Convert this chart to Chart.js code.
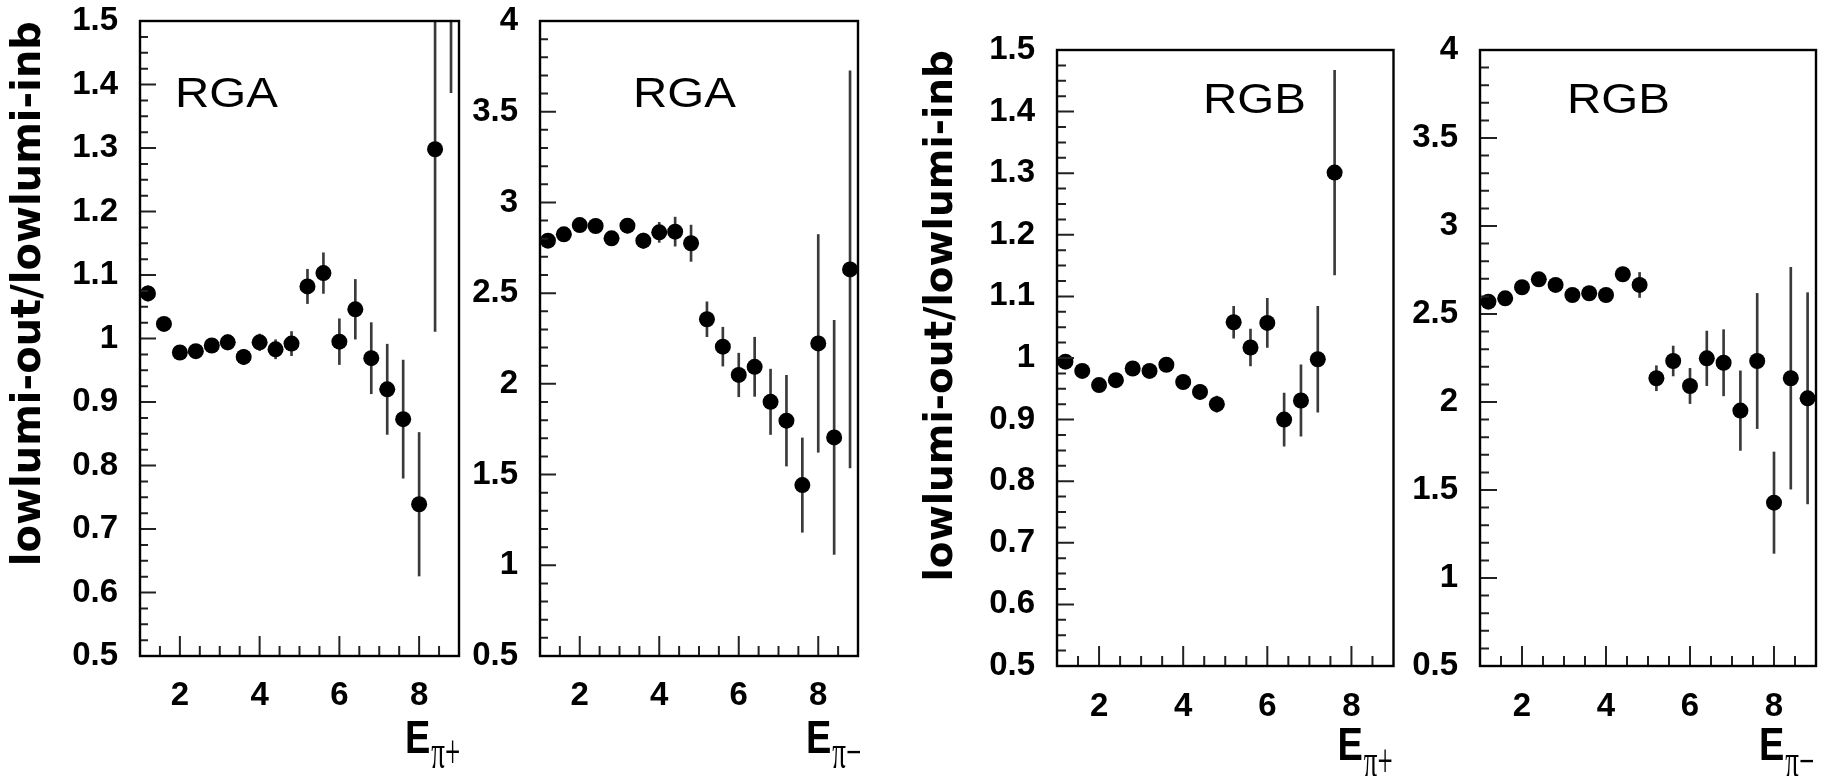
<!DOCTYPE html>
<html><head><meta charset="utf-8">
<script src="https://cdn.jsdelivr.net/npm/chart.js@4.4.1/dist/chart.umd.min.js"></script>
<style>
html,body{margin:0;padding:0;background:#fff;width:1824px;height:776px;overflow:hidden}
canvas{position:absolute;top:0}
</style></head><body>
<canvas id="c1" width="470" height="776" style="left:0px"></canvas>
<canvas id="c2" width="400" height="776" style="left:470px"></canvas>
<canvas id="c3" width="523" height="776" style="left:880px"></canvas>
<canvas id="c4" width="421" height="776" style="left:1403px"></canvas>
<script>
// ---- data ----
const binCenters = [1.2,1.6,2.0,2.4,2.8,3.2,3.6,4.0,4.4,4.8,5.2,5.6,6.0,6.4,6.8,7.2,7.6,8.0,8.4,8.8];

const rgaPipRatio = [1.071,1.023,0.978,0.980,0.989,0.994,0.971,0.994,0.983,0.992,1.082,1.103,0.995,1.046,0.969,0.920,0.873,0.739,1.298,1.62];
const rgaPipErr   = [0.012,0.010,0.010,0.010,0.011,0.012,0.012,0.013,0.015,0.019,0.027,0.032,0.036,0.047,0.056,0.071,0.093,0.113,0.287,0.233];

const rgaPimRatio = [2.789,2.824,2.875,2.870,2.802,2.872,2.789,2.835,2.839,2.775,2.356,2.205,2.049,2.094,1.901,1.797,1.442,2.223,1.705,2.631];
const rgaPimErr   = [0.030,0.030,0.032,0.034,0.036,0.040,0.042,0.055,0.080,0.100,0.096,0.107,0.120,0.163,0.180,0.250,0.260,0.600,0.645,1.094];

const rgbPipRatio = [0.994,0.979,0.956,0.964,0.983,0.979,0.989,0.961,0.945,0.925,1.058,1.017,1.057,0.900,0.931,0.998,1.301,null,null,null];
const rgbPipErr   = [0.008,0.008,0.008,0.009,0.009,0.010,0.010,0.011,0.012,0.013,0.026,0.030,0.040,0.043,0.058,0.086,0.166,null,null,null];

const rgbPimRatio = [2.570,2.589,2.652,2.697,2.665,2.608,2.618,2.608,2.726,2.665,2.135,2.233,2.091,2.248,2.223,1.951,2.233,1.428,2.135,2.021];
const rgbPimErr   = [0.025,0.025,0.027,0.030,0.030,0.032,0.035,0.038,0.040,0.071,0.071,0.085,0.100,0.155,0.188,0.226,0.384,0.288,0.630,0.600];

const xTickLabels = ['2','4','6','8'];
const yTickLabelsPip = ['0.5','0.6','0.7','0.8','0.9','1','1.1','1.2','1.3','1.4','1.5'];
const yTickLabelsPim = ['0.5','1','1.5','2','2.5','3','3.5','4'];
const panelLabels = ['RGA','RGA','RGB','RGB'];
const pionLabels = ['π+','π\u2212','π+','π\u2212'];
const yTitleText = 'lowlumi-out/lowlumi-inb';

// ---- layout / style per panel ----
const panelStyle = [
  {id:'c1', padTop:21, padRight:11, yW:140, xH:120, xPad:23, titleShow:true, titleSize:40, titlePad:10,
   tagAt:[1.88,1.365], yMinorStep:0.025, yMaj:16, yMin:8, eDx:54, eDy:97, subDy:112},
  {id:'c2', padTop:21, padRight:12, yW:70, xH:120, xPad:23, titleShow:false, titleSize:40, titlePad:0,
   tagAt:[3.34,3.526], yMinorStep:0.1, yMaj:16, yMin:8, eDx:52, eDy:97, subDy:112},
  {id:'c3', padTop:50, padRight:9.5, yW:177, xH:110, xPad:24, titleShow:true, titleSize:39, titlePad:42,
   tagAt:[4.47,1.398], yMinorStep:0.025, yMaj:17, yMin:9, eDx:56, eDy:94, subDy:111},
  {id:'c4', padTop:50, padRight:7, yW:77, xH:110, xPad:24, titleShow:false, titleSize:39, titlePad:0,
   tagAt:[3.07,3.642], yMinorStep:0.1, yMaj:17, yMin:9, eDx:57, eDy:94, subDy:111}
];
const panelData = [
  {vals:rgaPipRatio, errs:rgaPipErr, yLabels:yTickLabelsPip},
  {vals:rgaPimRatio, errs:rgaPimErr, yLabels:yTickLabelsPim},
  {vals:rgbPipRatio, errs:rgbPipErr, yLabels:yTickLabelsPip},
  {vals:rgbPimRatio, errs:rgbPimErr, yLabels:yTickLabelsPim}
];

const tickFont = {family:'"Liberation Sans", Arial, Helvetica, sans-serif', size:33, weight:'bold', lineHeight:1};

const rootDecor = {
  id:'rootDecor',
  afterDatasetsDraw(chart, args, o) {
    const {ctx, chartArea:a, scales:{x, y}} = chart;
    ctx.save();
    // tick marks (ROOT style, inward)
    ctx.strokeStyle = '#222'; ctx.lineWidth = 2;
    ctx.beginPath();
    const yMajors = o.yLabels.map(parseFloat);
    const n = Math.round((y.max - y.min) / o.yMinorStep);
    for (let k = 0; k <= n; k++) {
      const v = y.min + k * o.yMinorStep;
      const isMaj = yMajors.some(m => Math.abs(m - v) < 1e-6);
      const py = y.getPixelForValue(v);
      ctx.moveTo(a.left, py); ctx.lineTo(a.left + (isMaj ? o.yMaj : o.yMin), py);
    }
    const xMajors = xTickLabels.map(parseFloat);
    const nx = Math.round((x.max - x.min) / 0.5);
    for (let k = 1; k < nx; k++) {
      const v = x.min + k * 0.5;
      const isMaj = xMajors.some(m => Math.abs(m - v) < 1e-6);
      const px = x.getPixelForValue(v);
      ctx.moveTo(px, a.bottom); ctx.lineTo(px, a.bottom - (isMaj ? 20 : 10));
    }
    ctx.stroke();
    // frame
    ctx.strokeStyle = '#000'; ctx.lineWidth = 2.4;
    ctx.strokeRect(a.left, a.top, a.right - a.left, a.bottom - a.top);
    // panel tag (RGA / RGB)
    ctx.fillStyle = '#000';
    ctx.textBaseline = 'alphabetic'; ctx.textAlign = 'left';
    ctx.save();
    ctx.translate(x.getPixelForValue(o.tagAt[0]), y.getPixelForValue(o.tagAt[1]));
    ctx.scale(1.13, 1);
    ctx.font = '42px "Liberation Sans", Arial, sans-serif';
    ctx.fillText(o.tag, 0, 0);
    ctx.restore();
    // x-axis title E_pi
    ctx.save();
    ctx.translate(a.right - o.eDx, a.bottom + o.eDy);
    ctx.scale(1, 1.2);
    ctx.font = 'bold 38px "Liberation Sans", Arial, sans-serif';
    ctx.fillText('E', 0, 0);
    const ew = ctx.measureText('E').width;
    ctx.restore();
    ctx.save();
    ctx.translate(a.right - o.eDx + ew + 1, a.bottom + o.subDy);
    ctx.scale(0.9, 1.6);
    ctx.font = '30px "Liberation Serif", "Times New Roman", serif';
    ctx.fillText(o.pion, 0, 0);
    ctx.restore();
    ctx.restore();
  }
};

panelStyle.forEach((st, i) => {
  const d = panelData[i];
  const pts = [], bars = [];
  binCenters.forEach((xc, j) => {
    if (d.vals[j] == null) return;
    pts.push({x: xc, y: d.vals[j]});
    bars.push({x: xc, y: [d.vals[j] - d.errs[j], d.vals[j] + d.errs[j]]});
  });
  const yVals = d.yLabels.map(parseFloat);
  new Chart(document.getElementById(st.id), {
    type: 'scatter',
    data: {
      datasets: [
        {type:'scatter', data: pts, pointRadius: 8, pointHoverRadius: 8, backgroundColor:'#000', borderWidth:0, order:0, clip:0},
        {type:'bar', data: bars, barThickness: 2, backgroundColor:'#3a3a3a', borderWidth:0, order:1, clip:0, grouped:false}
      ]
    },
    options: {
      responsive:false, animation:false, devicePixelRatio:1,
      layout:{padding:{left:0, top:st.padTop, right:st.padRight, bottom:0}},
      plugins:{legend:{display:false}, tooltip:{enabled:false},
        rootDecor:{yLabels:d.yLabels, yMinorStep:st.yMinorStep, yMaj:st.yMaj, yMin:st.yMin,
          tag:panelLabels[i], tagAt:st.tagAt, pion:pionLabels[i], eDx:st.eDx, eDy:st.eDy, subDy:st.subDy}},
      scales:{
        x:{type:'linear', min:1, max:9, offset:false,
          afterBuildTicks: s => { s.ticks = xTickLabels.map(t => ({value: parseFloat(t)})); },
          afterFit: s => { s.height = st.xH; },
          ticks:{color:'#000', font:tickFont, padding:0, maxRotation:0, autoSkip:false,
            callback: (v) => xTickLabels.find(t => parseFloat(t) === v) ?? ''},
          grid:{display:false, drawTicks:true, tickLength:st.xPad, offset:false}, border:{display:false}},
        y:{type:'linear', min:yVals[0], max:yVals[yVals.length-1],
          afterBuildTicks: s => { s.ticks = yVals.map(v => ({value: v})); },
          afterFit: s => { s.width = st.yW; },
          ticks:{color:'#000', font:tickFont, padding:0, autoSkip:false,
            callback: (v) => d.yLabels.find(t => Math.abs(parseFloat(t) - v) < 1e-9) ?? ''},
          grid:{display:false, drawTicks:true, tickLength:22}, border:{display:false},
          title:{display:st.titleShow, text:yTitleText, align:'end', color:'#000',
            font:{family:'"DejaVu Sans", sans-serif', size:st.titleSize, weight:'bold', lineHeight:1},
            padding:{top:st.titlePad, bottom:0}}}
      }
    },
    plugins:[rootDecor]
  });
});
</script>
</body></html>
